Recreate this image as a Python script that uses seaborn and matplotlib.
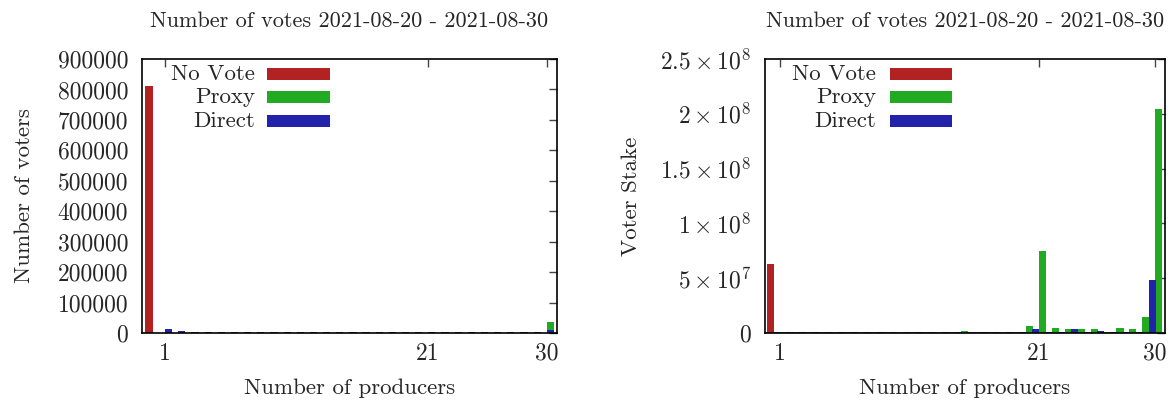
import numpy as np
import pandas as pd
import matplotlib
matplotlib.use("Agg")
import matplotlib.pyplot as plt
from matplotlib.patches import Rectangle
import seaborn as sns

# ---- data -----------------------------------------------------------------
producers = list(range(0, 31))
series_names = ["No Vote", "Proxy", "Direct"]
series_colors = ["#b22222", "#22ab22", "#2222aa"]

# number of voters per number of producers voted for
voters_no_vote = [810000] + [0] * 30
voters_proxy = [0, 300, 300, 250, 250, 200, 200, 200, 200, 200, 200,
                200, 200, 200, 200, 200, 200, 200, 200, 200, 200,
                250, 250, 250, 250, 300, 300, 400, 800, 1200, 35000]
voters_direct = [0, 12000, 6000, 4000, 3500, 3200, 3000, 3000, 2900, 2800, 2800,
                 2700, 2700, 2600, 2600, 2600, 2500, 2500, 2500, 2500, 2500,
                 2500, 2500, 2400, 2400, 2400, 2400, 2400, 2400, 2500, 9000]

# voter stake per number of producers voted for
stake_no_vote = [6.3e7] + [0] * 30
stake_proxy = [0, 0.5e6, 0.8e6, 1.2e6, 0.6e6, 0.6e6, 0.8e6, 0.7e6, 0.6e6, 1.0e6, 0.7e6,
               1.0e6, 0.6e6, 0.7e6, 0.6e6, 1.6e6, 0.6e6, 1.0e6, 0.6e6, 0.6e6, 6.8e6,
               7.5e7, 4.5e6, 3.6e6, 3.6e6, 3.6e6, 0.9e6, 4.5e6, 3.4e6, 1.45e7, 2.04e8]
stake_direct = [0, 1.2e6, 0.9e6, 0.9e6, 0.9e6, 0.8e6, 0.8e6, 0.8e6, 0.8e6, 0.8e6, 0.8e6,
                0.8e6, 0.8e6, 0.8e6, 0.8e6, 0.8e6, 0.8e6, 0.8e6, 0.8e6, 0.8e6, 0.8e6,
                3.6e6, 0.7e6, 0.8e6, 3.6e6, 0.7e6, 1.6e6, 0.7e6, 0.7e6, 0.8e6, 4.85e7]

x_ticks = [1, 21, 30]
title_text = "Number of votes 2021-08-20 - 2021-08-30"

# ---- style ----------------------------------------------------------------
sns.set_style("white")
plt.rcParams["font.family"] = ["cmr10", "DejaVu Serif"]
plt.rcParams["mathtext.fontset"] = "cm"
plt.rcParams["axes.formatter.use_mathtext"] = True
plt.rcParams["axes.unicode_minus"] = False
FS = 17
FS_TITLE = 16
FS_KEY = 16.5
FS_LABEL = 16.5

fig = plt.figure(figsize=(11.7, 4.0), dpi=100)
ax1 = fig.add_axes([142 / 1170, 67 / 400, 415 / 1170, 274 / 400])
ax2 = fig.add_axes([765 / 1170, 67 / 400, 400 / 1170, 274 / 400])


def draw_bars(ax, columns, offsets, width=0.55):
    # draw order: No Vote, Proxy, Direct (Direct on top)
    for values, color, off in zip(columns, series_colors, offsets):
        df = pd.DataFrame({"pos": np.array(producers, dtype=float) + off,
                           "value": values})
        sns.barplot(data=df, x="pos", y="value", native_scale=True, width=width,
                    color=color, saturation=1, linewidth=0, errorbar=None, ax=ax)


def draw_key(ax, text_x, sw_x0, sw_x1):
    ys = [0.945, 0.861, 0.774]
    h = 0.044
    for name, color, y in zip(series_names, series_colors, ys):
        ax.text(text_x, y, name, transform=ax.transAxes, ha="right", va="center",
                fontsize=FS_KEY)
        ax.add_patch(Rectangle((sw_x0, y - h / 2), sw_x1 - sw_x0, h,
                               transform=ax.transAxes, color=color, lw=0,
                               clip_on=False))


def style_axes(ax):
    for s in ax.spines.values():
        s.set_visible(True)
        s.set_linewidth(1.2)
        s.set_color("black")
    ax.tick_params(axis="both", which="major", direction="in", length=6, width=1,
                   top=True, right=True, labelsize=FS, color="#444444")
    ax.tick_params(axis="y", pad=10)
    ax.tick_params(axis="x", pad=7)
    ax.set_xticks(x_ticks)
    ax.set_xticklabels([str(t) for t in x_ticks])
    ax.set_xlabel("Number of producers", fontsize=FS_LABEL, labelpad=10)
    ax.set_title(title_text, fontsize=FS_TITLE, pad=23)


# left panel: number of voters
draw_bars(ax1, [voters_no_vote, voters_proxy, voters_direct], [-0.22, 0.28, 0.28])
style_axes(ax1)
ax1.set_xlim(-0.75, 30.79)
ax1.set_ylim(0, 900000)
yt1 = list(range(0, 900001, 100000))
ax1.set_yticks(yt1)
ax1.set_yticklabels([str(v) for v in yt1])
ax1.set_ylabel("Number of voters", fontsize=FS_LABEL, labelpad=17)
draw_key(ax1, 0.272, 0.301, 0.453)

# right panel: voter stake
draw_bars(ax2, [stake_no_vote, stake_proxy, stake_direct], [0.30, 0.30, -0.22])
style_axes(ax2)
ax2.set_xlim(-0.15, 30.78)
ax2.set_ylim(0, 2.5e8)
yt2 = [0, 5e7, 1e8, 1.5e8, 2e8, 2.5e8]
ax2.set_yticks(yt2)
ax2.set_yticklabels(["0", r"$5\times10^{7}$", r"$1\times10^{8}$",
                     r"$1.5\times10^{8}$", r"$2\times10^{8}$", r"$2.5\times10^{8}$"])
ax2.set_ylabel("Voter Stake", fontsize=FS_LABEL, labelpad=14)
draw_key(ax2, 0.2775, 0.3125, 0.4675)

fig.savefig("out.png", dpi=100)
